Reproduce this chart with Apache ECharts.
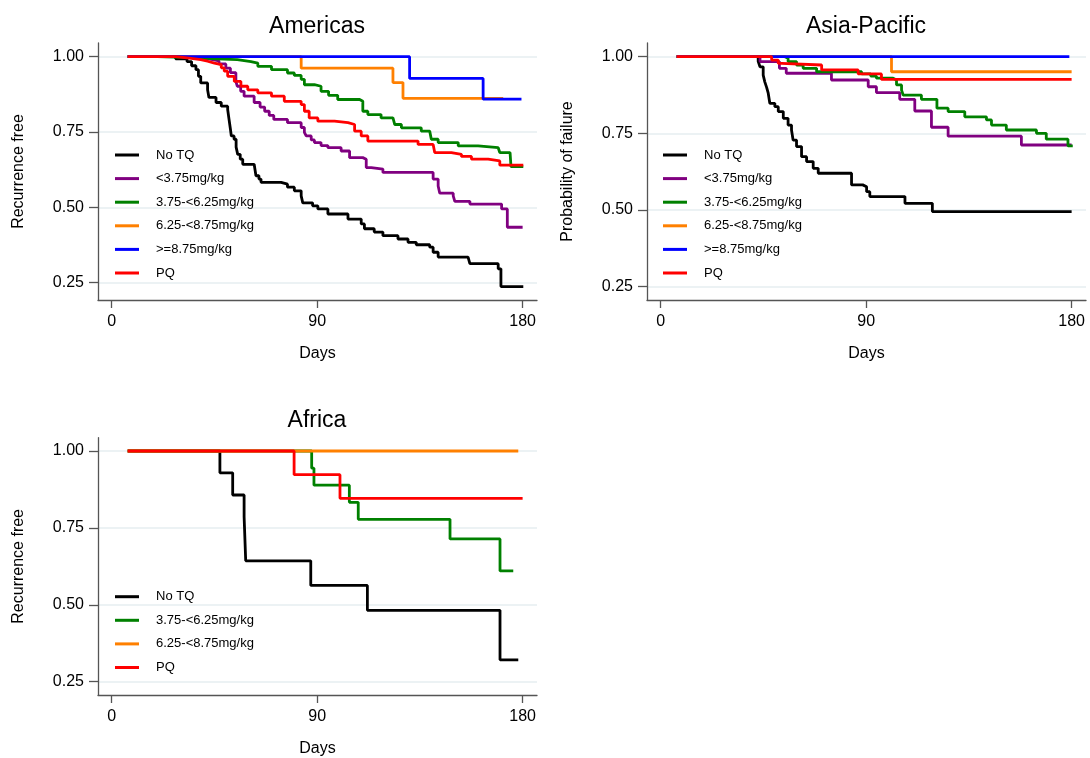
<!DOCTYPE html>
<html><head><meta charset="utf-8">
<script src="https://cdn.jsdelivr.net/npm/echarts@6/dist/echarts.min.js"></script>
<style>html,body{margin:0;padding:0;background:#fff}#c{width:1090px;height:758px}</style>
</head><body><div id="c"></div>
<script>
// ---------- data ----------
const seriesNames = ['No TQ', '<3.75mg/kg', '3.75-<6.25mg/kg', '6.25-<8.75mg/kg', '>=8.75mg/kg', 'PQ'];
const seriesColors = ['#000000', '#800080', '#008000', '#ff8000', '#0000ff', '#ff0000'];
const panelTitles = ['Americas', 'Asia-Pacific', 'Africa'];
const yAxisTitles = ['Recurrence free', 'Probability of failure', 'Recurrence free'];
const xAxisTitle = 'Days';
const xTicks = [0, 90, 180];
const yTicks = [0.25, 0.5, 0.75, 1];

// Americas: [day, survival]
const amNoTQ = [[7,1],[28,0.993],[33,0.984],[35,0.97],[36.9,0.957],[38,0.935],[39,0.913],[42,0.89],[42.6,0.865],[45.7,0.848],[48,0.836],[50.8,0.825],[51.4,0.792],[52,0.76],[52.4,0.737],[53.6,0.726],[54.5,0.70],[55.2,0.676],[56.3,0.66],[57.4,0.643],[62.4,0.638],[63.2,0.605],[64.5,0.594],[65.4,0.583],[74.2,0.577],[77,0.567],[80,0.555],[83,0.538],[83.7,0.515],[88,0.505],[90.3,0.495],[94.7,0.478],[103.5,0.461],[109.3,0.445],[110.7,0.429],[115,0.418],[118.8,0.406],[125.4,0.395],[129.8,0.384],[133.4,0.376],[139.3,0.368],[140.8,0.351],[143,0.335],[156.1,0.329],[156.9,0.313],[169.3,0.296],[170.5,0.237],[180.3,0.237]];
const amLt375 = [[7,1],[30,0.997],[38,0.992],[43,0.986],[47,0.976],[50,0.962],[52,0.947],[54.4,0.918],[55,0.902],[56.5,0.885],[58,0.869],[62.4,0.848],[65,0.833],[67,0.819],[69,0.805],[71,0.792],[77,0.781],[83,0.765],[84.4,0.749],[85.2,0.737],[87.4,0.724],[88.8,0.715],[91.7,0.705],[94.7,0.698],[100.5,0.687],[104.2,0.665],[110,0.66],[111.5,0.632],[113.7,0.627],[118.8,0.616],[140.8,0.594],[143,0.571],[143.7,0.547],[149.6,0.538],[150.3,0.52],[156.9,0.511],[170.8,0.495],[173.3,0.434],[180,0.434]];
const am375to625 = [[7,1],[20,0.997],[35,0.993],[46,0.99],[55,0.984],[61,0.979],[64,0.968],[70,0.957],[77,0.946],[80,0.938],[83,0.925],[84.4,0.907],[88.8,0.902],[91.7,0.885],[95,0.872],[99,0.858],[108.6,0.852],[110,0.819],[112.2,0.808],[118,0.797],[123.2,0.792],[124,0.775],[126.9,0.764],[135.6,0.753],[139.3,0.748],[140,0.726],[143,0.715],[151.8,0.704],[160.5,0.698],[169.3,0.693],[170,0.682],[174.5,0.676],[174.9,0.635],[180.3,0.635]];
const am625to875 = [[7,1],[83,0.962],[123.2,0.914],[127.6,0.862],[171.5,0.862]];
const amGe875 = [[7,1],[130.5,0.928],[162.7,0.859],[179.5,0.859]];
const amPQ = [[7,1],[28,0.995],[34,0.99],[39,0.985],[42,0.979],[45,0.974],[48,0.963],[49.3,0.952],[50.8,0.935],[53.7,0.918],[56.6,0.902],[59.6,0.89],[64,0.88],[70,0.869],[75.6,0.852],[83,0.841],[84.4,0.819],[86.5,0.797],[90.3,0.786],[97.6,0.781],[103.5,0.775],[106.4,0.753],[109.3,0.737],[112.2,0.72],[134.2,0.709],[140.8,0.704],[141.5,0.682],[148.8,0.676],[153.2,0.669],[157.6,0.66],[164.9,0.654],[170,0.64],[180.3,0.64]];

// Asia-Pacific
const apNoTQ = [[7,1],[42.7,0.985],[43.5,0.967],[44.9,0.94],[45.6,0.918],[46.4,0.9],[47.1,0.881],[47.8,0.848],[50,0.837],[51.5,0.821],[53.7,0.799],[55.8,0.777],[57.3,0.761],[58,0.728],[59.5,0.707],[61.7,0.674],[63.9,0.658],[66.8,0.636],[69,0.62],[83.6,0.582],[88.5,0.576],[90.2,0.56],[91.6,0.544],[107,0.522],[119,0.495],[180,0.495]];
const apLt375 = [[7,1],[43.5,0.984],[52,0.962],[55,0.946],[74.8,0.924],[90.9,0.902],[94.5,0.883],[104.7,0.861],[111.3,0.823],[118.6,0.77],[125.9,0.741],[158,0.712],[180,0.712]];
const ap375to625 = [[7,1],[54.4,0.995],[55.8,0.984],[59.5,0.973],[62.4,0.962],[68.3,0.951],[88,0.944],[92,0.937],[94.5,0.93],[101.8,0.924],[103.3,0.908],[105.5,0.891],[106.2,0.875],[114.2,0.861],[121,0.832],[125.9,0.821],[133.2,0.804],[142.7,0.794],[144.9,0.777],[151.4,0.761],[164.6,0.75],[168.9,0.731],[178.4,0.709],[180.5,0.709]];
const ap625to875 = [[7,1],[101.1,0.951],[180,0.951]];
const apGe875 = [[7,1],[179,1]];
const apPQ = [[7,1],[48.6,0.989],[51.5,0.978],[53,0.973],[70.5,0.957],[86.5,0.944],[96.7,0.926],[180,0.926]];

// Africa
const afNoTQ = [[7,1],[47.4,0.929],[53,0.857],[58,0.786],[58.7,0.643],[87.2,0.563],[112,0.482],[170.1,0.321],[178.1,0.321]];
const af375to625 = [[7,1],[87.6,0.944],[88.6,0.889],[104.1,0.833],[108,0.778],[148.2,0.714],[170.1,0.61],[175.9,0.61]];
const af625to875 = [[7,1],[178.1,1]];
const afPQ = [[7,1],[79.9,0.923],[100,0.846],[180,0.846]];

// series per panel: [name index, data]
const panelSeries = [
  [[0, amNoTQ], [1, amLt375], [2, am375to625], [3, am625to875], [4, amGe875], [5, amPQ]],
  [[0, apNoTQ], [1, apLt375], [2, ap375to625], [3, ap625to875], [4, apGe875], [5, apPQ]],
  [[0, afNoTQ], [2, af375to625], [3, af625to875], [5, afPQ]]
];

// ---------- layout ----------
const FONT = "'Liberation Sans', Arial, Helvetica, sans-serif";
const grids = [
  {left: 98, top: 43, width: 439, height: 257},
  {left: 647, top: 43, width: 439, height: 257},
  {left: 98, top: 437.7, width: 439, height: 257.3}
];
const yRanges = [[0.1926, 1.0455], [0.2066, 1.0447], [0.2068, 1.0432]];
const xRange = [-6, 186.3];
const titlePos = [[317, 27], [866, 27], [317, 421]];
const legendPos = [[115, 148.5], [663, 148.5], [115, 590.2]];

const axisColor = '#555';
const option = {
  animation: false,
  backgroundColor: '#fff',
  textStyle: {fontFamily: FONT},
  title: panelTitles.map((t, i) => ({
    text: t, left: titlePos[i][0], top: titlePos[i][1], padding: 0,
    textAlign: 'center', textVerticalAlign: 'middle',
    textStyle: {fontFamily: FONT, fontSize: 23, fontWeight: 'normal', color: '#000'}
  })),
  grid: grids.map(g => Object.assign({containLabel: false}, g)),
  xAxis: grids.map((g, i) => ({
    type: 'value', gridIndex: i, min: xRange[0], max: xRange[1],
    name: xAxisTitle, nameLocation: 'middle', nameGap: 46,
    nameTextStyle: {fontFamily: FONT, fontSize: 16, color: '#000'},
    axisLine: {show: true, onZero: false, lineStyle: {color: axisColor, width: 1.3}},
    axisTick: {show: true, length: 8, customValues: xTicks, lineStyle: {color: axisColor, width: 1.3}},
    axisLabel: {customValues: xTicks, fontFamily: FONT, fontSize: 16, color: '#000', margin: 14},
    splitLine: {show: false}
  })),
  yAxis: grids.map((g, i) => ({
    type: 'value', gridIndex: i, min: yRanges[i][0], max: yRanges[i][1],
    name: yAxisTitles[i], nameLocation: 'middle', nameGap: 71,
    nameTextStyle: {fontFamily: FONT, fontSize: 16, color: '#000'},
    axisLine: {show: true, onZero: false, lineStyle: {color: axisColor, width: 1.3}},
    axisTick: {show: true, length: 9, customValues: yTicks, lineStyle: {color: axisColor, width: 1.3}},
    axisLabel: {customValues: yTicks, fontFamily: FONT, fontSize: 16, color: '#000', margin: 14,
      padding: [3, 0, 0, 0],
      formatter: v => Number(v).toFixed(2)},
    splitLine: {show: true, lineStyle: {color: '#e6eef1', width: 1.5}}
  })),
  legend: panelSeries.map((ps, i) => ({
    orient: 'vertical', left: legendPos[i][0], top: legendPos[i][1], padding: 0,
    icon: 'rect', itemWidth: 24, itemHeight: 3, itemGap: 10.6,
    selectedMode: false,
    data: ps.map(p => seriesNames[p[0]]),
    textStyle: {fontFamily: FONT, fontSize: 13, color: '#000', padding: [0, 0, 0, 12]}
  })),
  series: []
};
panelSeries.forEach((ps, i) => {
  ps.forEach(p => {
    option.series.push({
      type: 'line', name: seriesNames[p[0]], xAxisIndex: i, yAxisIndex: i,
      data: p[1], step: 'end', symbol: 'none', showSymbol: false, silent: true,
      color: seriesColors[p[0]],
      lineStyle: {color: seriesColors[p[0]], width: 2.8},
      emphasis: {disabled: true}
    });
  });
});
const chart = echarts.init(document.getElementById('c'), null, {renderer: 'canvas'});
chart.setOption(option);
</script>
</body></html>
